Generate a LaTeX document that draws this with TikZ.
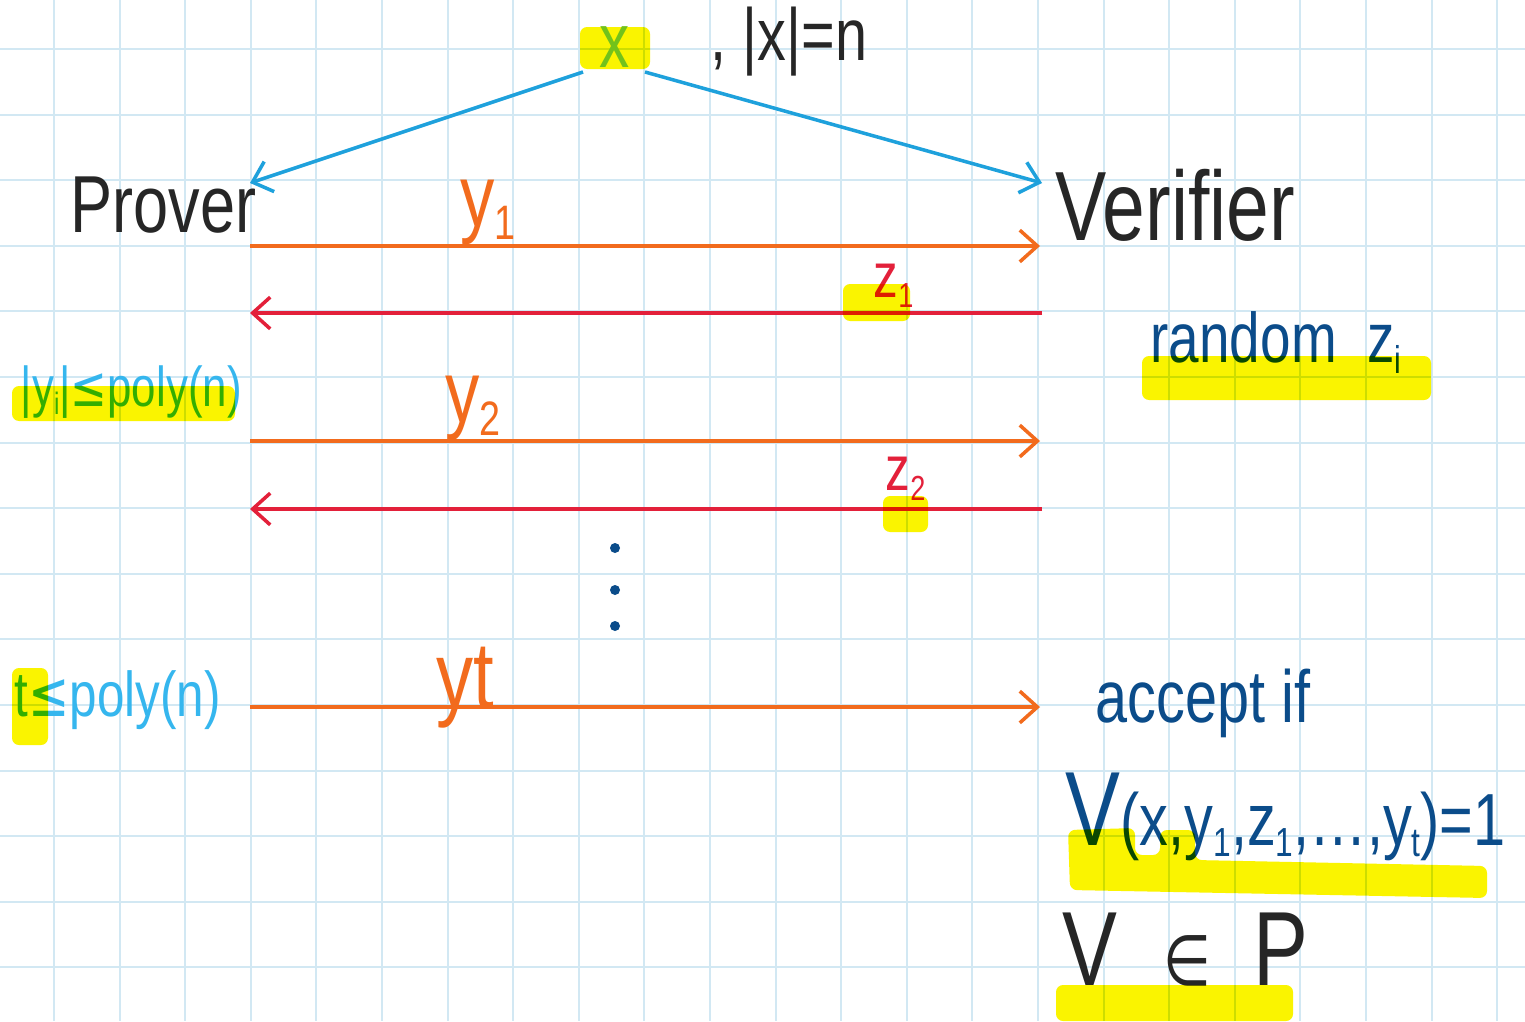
\documentclass[tikz,border=0pt]{standalone}
\usepackage{fontspec}
\setmainfont{Liberation Sans}[FakeStretch=0.78]
\newfontfamily\symfont{DejaVu Sans}[FakeStretch=0.78]
\usepackage{tikz}
\usetikzlibrary{arrows.meta, positioning, calc}
\definecolor{gridblue}{HTML}{D2E8F3}
\definecolor{hlyellow}{HTML}{FAF400}
\definecolor{inblue}{HTML}{1EA1DC}
\definecolor{sendorange}{HTML}{F26B1D}
\definecolor{backred}{HTML}{E3203A}
\definecolor{inkblue}{HTML}{0B4C8A}
\definecolor{skyblue}{HTML}{35B6EE}
\definecolor{limegreen}{HTML}{72C21B}
\definecolor{inkblack}{HTML}{262626}
\newcommand{\sub}[1]{\raisebox{-0.3ex}{\scalebox{0.55}{#1}}}
\tikzset{
  % Grid paper
  gridline/.style={draw=gridblue, line width=0.6pt},
  % Marker strokes
  hilite/.style={fill=hlyellow, rounded corners=2pt},
  % Arrows
  inarrow/.style={-{Straight Barb[length=5pt, width=9pt, line width=1pt]}, line width=1pt, draw=inblue},
  msg/.style={-{Straight Barb[length=5pt, width=9pt, line width=1pt]}, line width=1pt, draw=#1},
  msg/.default={sendorange},
  % Handwritten labels
  hand/.style={inner sep=0pt, anchor=base west, text=#1},
  hand/.default={inkblack},
}

\begin{document}
\begin{tikzpicture}[x=0.01cm, y=0.01cm]
  \useasboundingbox (0,0) rectangle (1525,-1021);
  \fill[white] (0,0) rectangle (1525,-1021);

  % Grid
  \begin{scope}
    \clip (0,0) rectangle (1525,-1021);
    \foreach \gx in {0,...,22}
      \draw[gridline] ({54+65.6*\gx},0) -- ++(0,-1021);
    \foreach \gy in {0,...,14}
      \draw[gridline] (0,{-49-65.6*\gy}) -- ++(1525,0);
  \end{scope}

  % Parties
  \node[hand, font=\fontsize{23}{23}\selectfont] (prover) at (70,-232) {Prover};
  \node[hand, font=\fontsize{28}{28}\selectfont] (verifier) at (1055,-240) {Verifier};
  \coordinate (pin) at (250,-183);
  \coordinate (vin) at (1042,-183);
  \draw[inarrow] (583,-72) -- (pin);
  \draw[inarrow] (645,-72) -- (vin);

  % Messages
  \coordinate (p1) at (250,-246);  \coordinate (v1) at (1040,-246);
  \coordinate (p2) at (250,-313);  \coordinate (v2) at (1042,-313);
  \coordinate (p3) at (250,-441);  \coordinate (v3) at (1040,-441);
  \coordinate (p4) at (250,-509);  \coordinate (v4) at (1042,-509);
  \coordinate (p5) at (250,-707);  \coordinate (v5) at (1040,-707);
  \draw[msg] (p1) -- (v1);
  \draw[msg=backred] (v2) -- (p2);
  \draw[msg] (p3) -- (v3);
  \draw[msg=backred] (v4) -- (p4);
  \draw[msg] (p5) -- (v5);

  \node[hand=sendorange, font=\fontsize{25}{25}\selectfont] (ya) at (460,-226) {y\sub{1}};
  \node[hand=backred, font=\fontsize{18}{18}\selectfont] (za) at (873,-297) {z\sub{1}};
  \node[hand=sendorange, font=\fontsize{25}{25}\selectfont] (yb) at (445,-422) {y\sub{2}};
  \node[hand=backred, font=\fontsize{18}{18}\selectfont] (zb) at (885,-490) {z\sub{2}};
  \node[hand=sendorange, font=\fontsize{27}{27}\selectfont] (yt) at (436,-708) {yt};

  % Dots
  \foreach \dy in {548,590,626}
    \fill[inkblue] (615,-\dy) circle (5);

  % Side notes
  \node[hand=skyblue, font=\fontsize{16}{16}\selectfont] (ybound) at (20,-406)
    {|y\sub{i}|{\symfont≤}poly(n)};
  \node[hand=skyblue, font=\fontsize{18}{18}\selectfont] (tbound) at (14,-716)
    {t{\symfont≤}poly(n)};
  \node[hand=inkblue, font=\fontsize{20}{20}\selectfont] (rand) at (1150,-362) {random\ \ z\sub{i}};
  \node[hand=inkblue, font=\fontsize{21}{21}\selectfont] (accept) at (1095,-722) {accept\ if};
  \node[hand=inkblue, font=\fontsize{21}{21}\selectfont] (vcheck) at (1065,-845)
    {{\fontsize{30}{30}\selectfont V}(x,y\sub{1},z\sub{1},…,y\sub{t})=1};
  \node[hand, font=\fontsize{30}{30}\selectfont] (vinp) at (1062,-985)
    {V\hspace{13pt}{\fontsize{20}{20}\selectfont\symfont∈}\hspace{12pt}P};

  % Highlights (marker over ink)
  \begin{scope}[blend mode=multiply]
    \fill[hilite] (580,-27) rectangle (650,-69);
    \fill[hilite] (843,-284) rectangle (910,-321);
    \fill[hilite] (1142,-356) rectangle (1431,-400);
    \fill[hilite] (12,-386) rectangle (235,-421);
    \fill[hilite] (883,-496) rectangle (928,-532);
    \fill[hilite] (12,-668) rectangle (48,-745);
    \fill[hilite] (1068,-830) -- (1135,-828) -- (1135,-855) -- (1160,-855)
      -- (1160,-830) -- (1195,-830) -- (1195,-860) -- (1487,-866)
      -- (1487,-898) -- (1070,-890) -- cycle;
    \fill[hilite] (1056,-985) rectangle (1293,-1021);
  \end{scope}

  % Input
  \node[hand=limegreen, anchor=center, font=\fontsize{22}{22}\selectfont] (xin) at (615,-47) {x};
  \node[hand, font=\fontsize{21}{21}\selectfont] (xlen) at (710,-60) {, |x|=n};
\end{tikzpicture}
\end{document}
